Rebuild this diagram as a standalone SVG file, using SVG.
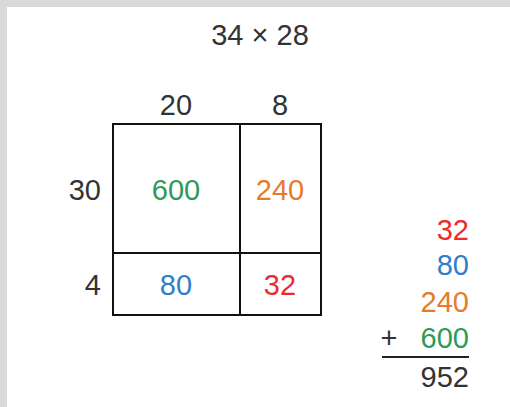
<svg xmlns="http://www.w3.org/2000/svg" width="510" height="407" viewBox="0 0 510 407">
<style>
text{font-family:"Liberation Sans",Arial,sans-serif;font-size:29px;fill:#333}
.m{text-anchor:middle}.e{text-anchor:end}
.g{fill:#2e9a55}.o{fill:#e57c2c}.b{fill:#2f7fc8}.r{fill:#ee2a2a}
.ln{stroke:#111;stroke-width:2;fill:none}
</style>
<rect x="0" y="0" width="510" height="407" fill="#ffffff"/>
<rect x="0" y="0" width="510" height="7" fill="#d9d9d9"/>
<rect x="0" y="0" width="7" height="407" fill="#d9d9d9"/>
<g id="title"><text class="m" x="260" y="45">34 × 28</text></g>
<g id="labels">
<text class="m" x="176" y="115">20</text>
<text class="m" x="280" y="115">8</text>
<text class="e" x="101" y="200">30</text>
<text class="e" x="101" y="295">4</text>
</g>
<g id="grid">
<rect class="ln" x="113" y="124" width="208" height="191"/>
<line class="ln" x1="240" y1="124" x2="240" y2="315"/>
<line class="ln" x1="113" y1="253" x2="321" y2="253"/>
</g>
<g id="cells">
<text class="m g" x="176" y="200">600</text>
<text class="m o" x="280" y="200">240</text>
<text class="m b" x="176" y="295">80</text>
<text class="m r" x="280" y="295">32</text>
</g>
<g id="sum">
<text class="e r" x="469" y="240">32</text>
<text class="e b" x="469" y="275">80</text>
<text class="e o" x="469" y="312">240</text>
<text class="e g" x="469" y="348">600</text>
<text class="m" x="389" y="348">+</text>
<line x1="382" y1="357" x2="469" y2="357" stroke="#222" stroke-width="2"/>
<text class="e" x="469" y="387">952</text>
</g>
</svg>
